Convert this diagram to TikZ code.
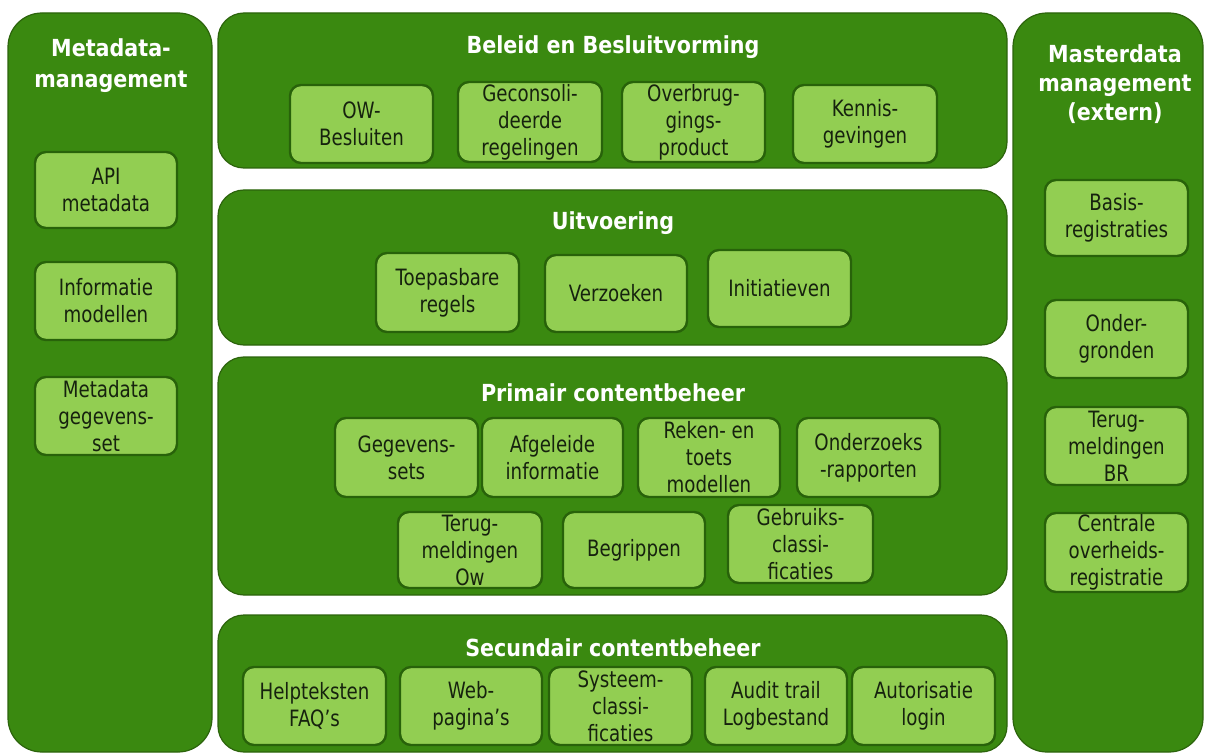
\documentclass[tikz,border=0pt]{standalone}
\usepackage{fontspec}
\setmainfont{DejaVu Sans}[FakeStretch=0.88]
\newfontfamily\itemfont{DejaVu Sans}[FakeStretch=0.81]
\definecolor{pgreen}{RGB}{58,137,16}
\definecolor{pbord}{RGB}{44,100,12}
\definecolor{lgreen}{RGB}{146,206,82}
\definecolor{ibord}{RGB}{40,98,10}
\definecolor{itext}{RGB}{22,34,14}
\tikzset{
  panel/.style={draw=pbord, line width=1.2pt, fill=pgreen, rounded corners=26pt, inner sep=0pt},
  sidepanel/.style={panel, rounded corners=34pt},
  item/.style={draw=ibord, line width=2.4pt, fill=lgreen, rounded corners=11pt, inner sep=0pt,
    align=center, text=itext, font=\itemfont\fontsize{22.5}{27}\selectfont},
  ttl/.style={align=center, text=white, font=\bfseries\fontsize{23.5}{31}\selectfont, inner sep=0pt},
}
\newcommand\mybox[7]{%
  \node[#1, minimum width={#5pt-#3pt}, minimum height={#6pt-#4pt}] (#2) at ({(#3+#5)/2},{(#4+#6)/2}) {#7};}
\begin{document}
\begin{tikzpicture}[x=1pt,y=-1pt]
\useasboundingbox (0,0) rectangle (1205,754);
% panels
\mybox{sidepanel}{meta}{8}{13}{212}{752}{}
\mybox{sidepanel}{master}{1013}{13}{1203}{752}{}
\mybox{panel}{beleid}{218}{13}{1007}{168}{}
\mybox{panel}{uitv}{218}{190}{1007}{345}{}
\mybox{panel}{prim}{218}{357}{1007}{595}{}
\mybox{panel}{sec}{218}{615}{1007}{752}{}
% titles
\node[ttl] (tmeta) at (111,66) {Metadata-\\management};
\node[ttl, font=\bfseries\fontsize{23.5}{29}\selectfont] (tmaster) at (1115,84) {Masterdata\\management\\(extern)};
\node[ttl] (tbeleid) at (613,47) {Beleid en Besluitvorming};
\node[ttl] (tuitv) at (613,223) {Uitvoering};
\node[ttl] (tprim) at (613,393) {Primair contentbeheer};
\node[ttl] (tsec) at (613,648) {Secundair contentbeheer};
% left items
\mybox{item}{api}{35}{152}{177}{228}{API\\metadata}
\mybox{item}{info}{35}{262}{177}{340}{Informatie\\modellen}
\mybox{item}{mdset}{35}{377}{177}{455}{Metadata\\gegevens-\\set}
% beleid
\mybox{item}{owb}{290}{85}{433}{163}{OW-\\Besluiten}
\mybox{item}{gecon}{458}{82}{602}{162}{Geconsoli-\\deerde\\regelingen}
\mybox{item}{overb}{622}{82}{765}{162}{Overbrug-\\gings-\\product}
\mybox{item}{kennis}{793}{85}{937}{163}{Kennis-\\gevingen}
% uitvoering
\mybox{item}{toep}{376}{253}{519}{332}{Toepasbare\\regels}
\mybox{item}{verz}{545}{255}{687}{332}{Verzoeken}
\mybox{item}{init}{708}{250}{851}{327}{Initiatieven}
% primair
\mybox{item}{geg}{335}{418}{478}{497}{Gegevens-\\sets}
\mybox{item}{afg}{482}{418}{623}{497}{Afgeleide\\informatie}
\mybox{item}{reken}{638}{418}{780}{497}{Reken- en\\toets\\modellen}
\mybox{item}{onderz}{797}{418}{940}{497}{Onderzoeks\\-rapporten}
\mybox{item}{terugow}{398}{512}{542}{588}{Terug-\\meldingen\\Ow}
\mybox{item}{begr}{563}{512}{705}{588}{Begrippen}
\mybox{item}{gebr}{728}{505}{873}{583}{Gebruiks-\\classi-\\ficaties}
% secundair
\mybox{item}{help}{243}{667}{386}{745}{Helpteksten\\FAQ’s}
\mybox{item}{web}{400}{667}{542}{745}{Web-\\pagina’s}
\mybox{item}{sys}{549}{667}{692}{745}{Systeem-\\classi-\\ficaties}
\mybox{item}{audit}{705}{667}{847}{745}{Audit trail\\Logbestand}
\mybox{item}{auth}{852}{667}{995}{745}{Autorisatie\\login}
% right items
\mybox{item}{basis}{1045}{180}{1188}{256}{Basis-\\registraties}
\mybox{item}{onder}{1045}{300}{1188}{378}{Onder-\\gronden}
\mybox{item}{terugbr}{1045}{407}{1188}{485}{Terug-\\meldingen\\BR}
\mybox{item}{centr}{1045}{513}{1188}{592}{Centrale\\overheids-\\registratie}
\end{tikzpicture}
\end{document}
